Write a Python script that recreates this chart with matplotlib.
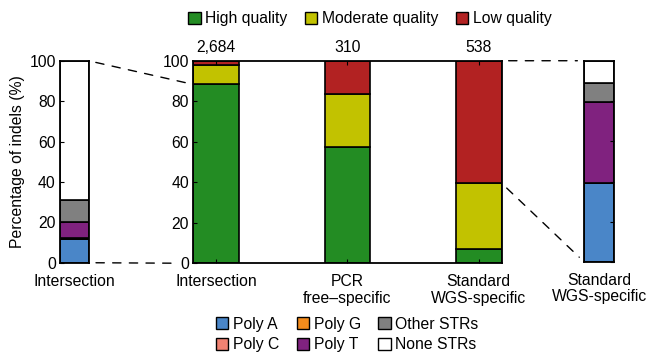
import matplotlib

matplotlib.use("Agg")

import matplotlib.pyplot as plt
from matplotlib.patches import ConnectionPatch, Patch

plt.rcParams["font.family"] = ["Liberation Sans", "DejaVu Sans"]
FS = 11.3
plt.rcParams["font.size"] = FS

# quality breakdown per indel set
groups = ["Intersection", "PCR\nfree\u2013specific", "Standard\nWGS-specific"]
counts = ["2,684", "310", "538"]
high_q = [88.3, 57.4, 7.3]
moderate_q = [9.4, 26.1, 32.2]
low_q = [2.3, 16.5, 60.5]

# STR breakdown for the zoomed bars
str_names = ["Poly A", "Poly C", "Poly G", "Poly T", "Other STRs", "None STRs"]
left_str = [11.6, 0.3, 0.2, 7.9, 11.0, 69.0]
right_str = [39.5, 0.0, 0.0, 40.0, 9.5, 11.0]
left_label = "Intersection"
right_label = "Standard\nWGS-specific"

q_colors = ["#238c23", "#c2c200", "#b22222"]
q_names = ["High quality", "Moderate quality", "Low quality"]
str_colors = ["#4a86c8", "#f08272", "#f48c1c", "#80227f", "#808080", "#ffffff"]

fig = plt.figure(figsize=(6.49, 3.56), dpi=100)
ax_l = fig.add_axes([0.0925, 0.262, 0.0447, 0.567])
ax_m = fig.add_axes([0.2978, 0.2604, 0.4752, 0.569])
ax_r = fig.add_axes([0.9003, 0.264, 0.0458, 0.5654])

bar_w = 0.35
x = list(range(len(groups)))
bottom = [0.0] * len(groups)
for vals, col in zip([high_q, moderate_q, low_q], q_colors):
    ax_m.bar(x, vals, bar_w, bottom=bottom, color=col, edgecolor="black", linewidth=1.2)
    bottom = [b + v for b, v in zip(bottom, vals)]
for xi, c in zip(x, counts):
    ax_m.text(xi, 103, c, ha="center", va="bottom", fontsize=FS)
ax_m.set_xlim(-bar_w / 2, len(groups) - 1 + bar_w / 2)
ax_m.set_ylim(0, 100)
ax_m.set_xticks(x)
ax_m.set_xticklabels(groups, linespacing=1.1)
ax_m.set_yticks(range(0, 101, 20))
ax_m.tick_params(direction="in", top=True, length=3, labelsize=FS)
ax_m.tick_params(axis="x", pad=8)
ax_m.tick_params(axis="y", pad=3)


def str_bar(ax, vals, label):
    b = 0.0
    for v, col in zip(vals, str_colors):
        ax.bar(0, v, 1.0, bottom=b, color=col, edgecolor="black", linewidth=1.2)
        b += v
    ax.set_xlim(-0.5, 0.5)
    ax.set_ylim(0, 100)
    ax.set_xticks([0])
    ax.set_xticklabels([label], linespacing=1.1)
    ax.tick_params(axis="x", length=0, labelsize=FS, pad=8)
    ax.set_yticks(range(0, 101, 20))


str_bar(ax_l, left_str, left_label)
ax_l.tick_params(axis="y", direction="in", length=3, labelsize=FS, pad=3)
ax_l.set_ylabel("Percentage of indels (%)", fontsize=FS, labelpad=3)

str_bar(ax_r, right_str, right_label)
ax_r.tick_params(axis="y", direction="in", left=False, right=True, labelleft=False, length=3)

for ax in (ax_l, ax_m, ax_r):
    for s in ax.spines.values():
        s.set_linewidth(1.3)

dash = dict(color="black", linewidth=1, linestyle=(0, (6, 6)), shrinkA=5, shrinkB=5)
fig.add_artist(ConnectionPatch((0.5, 100), (-bar_w / 2, high_q[0]), "data", "data",
                               axesA=ax_l, axesB=ax_m, **dash))
fig.add_artist(ConnectionPatch((0.5, 0), (-bar_w / 2, 0), "data", "data",
                               axesA=ax_l, axesB=ax_m, shrinkA=5, shrinkB=12,
                               color="black", linewidth=1, linestyle=(0, (6, 6))))
top_std = len(groups) - 1 + bar_w / 2
fig.add_artist(ConnectionPatch((top_std, 100), (-0.5, 100), "data", "data",
                               axesA=ax_m, axesB=ax_r, **dash))
fig.add_artist(ConnectionPatch((top_std, high_q[2] + moderate_q[2]), (-0.5, 0), "data", "data",
                               axesA=ax_m, axesB=ax_r, **dash))

q_handles = [Patch(facecolor=c, edgecolor="black", label=n) for c, n in zip(q_colors, q_names)]
fig.legend(handles=q_handles, loc="center", bbox_to_anchor=(0.57, 0.948), ncol=3, frameon=False,
           fontsize=FS, handlelength=0.8, handleheight=0.8, handletextpad=0.3, columnspacing=1.1)

s_handles = [Patch(facecolor=c, edgecolor="black", label=n) for c, n in zip(str_colors, str_names)]
fig.legend(handles=s_handles, loc="center", bbox_to_anchor=(0.535, 0.06), ncol=3, frameon=False,
           fontsize=FS, handlelength=0.8, handleheight=0.8, handletextpad=0.3, columnspacing=1.1,
           labelspacing=0.35)

fig.savefig("out.png", dpi=100)
